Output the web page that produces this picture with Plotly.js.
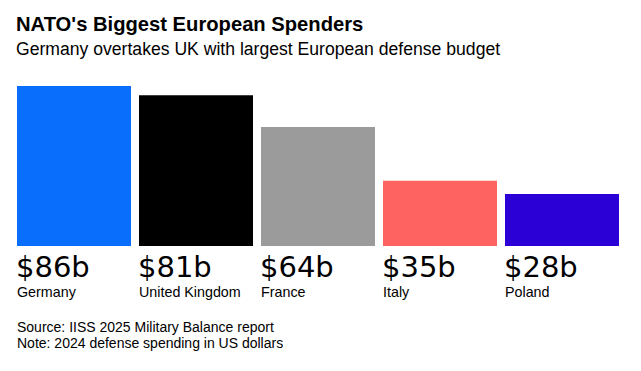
<!DOCTYPE html>
<html><head><meta charset="utf-8">
<script src="https://cdn.plot.ly/plotly-3.0.1.min.js"></script>
<style>html,body{margin:0;padding:0;background:#fff}#chart{width:641px;height:371px}</style>
</head><body><div id="chart"></div>
<script>
const countries = ["Germany", "United Kingdom", "France", "Italy", "Poland"];
const spending = [86, 81, 64, 35, 28];
const valueLabels = ["$86b", "$81b", "$64b", "$35b", "$28b"];
const colors = ["#0a6efd", "#000000", "#9b9b9b", "#ff6361", "#2a00d6"];

const FONT = "Liberation Sans, Arial, Helvetica, sans-serif";
const VFONT = "DejaVu Sans, Liberation Sans, sans-serif";
const barWidth = 114/122;
const xs = countries.map((_, i) => i);

const annotations = [];
xs.forEach((x, i) => {
  annotations.push({
    x: x - barWidth/2, y: 0, xref: "x", yref: "y", xanchor: "left", yanchor: "top",
    text: valueLabels[i], showarrow: false, yshift: -2, xshift: -3,
    font: {family: VFONT, size: 29, color: "#000"}
  });
  annotations.push({
    x: x - barWidth/2, y: 0, xref: "x", yref: "y", xanchor: "left", yanchor: "top",
    text: countries[i], showarrow: false, yshift: -36, xshift: -2,
    font: {family: FONT, size: 14.3, color: "#000"}
  });
});
annotations.push({
  x: 0, y: 0, xref: "paper", yref: "paper", xanchor: "left", yanchor: "top",
  text: "Source: IISS 2025 Military Balance report", showarrow: false,
  xshift: 2, yshift: -71, font: {family: FONT, size: 14, color: "#000"}
});
annotations.push({
  x: 0, y: 0, xref: "paper", yref: "paper", xanchor: "left", yanchor: "top",
  text: "Note: 2024 defense spending in US dollars", showarrow: false,
  xshift: 2, yshift: -87, font: {family: FONT, size: 14, color: "#000"}
});
annotations.push({
  x: 0, y: 1, xref: "paper", yref: "paper", xanchor: "left", yanchor: "bottom",
  text: "<b>NATO's Biggest European Spenders</b>", showarrow: false,
  xshift: 1, yshift: 42.5, font: {family: FONT, size: 20.2, color: "#000"}
});
annotations.push({
  x: 0, y: 1, xref: "paper", yref: "paper", xanchor: "left", yanchor: "bottom",
  text: "Germany overtakes UK with largest European defense budget", showarrow: false,
  xshift: 1, yshift: 19, font: {family: FONT, size: 17.6, color: "#000"}
});

const data = [{
  type: "bar", x: xs, y: spending, width: barWidth,
  marker: {color: colors, line: {width: 0}},
  hoverinfo: "skip"
}];

const layout = {
  width: 641, height: 371,
  margin: {l: 13, r: 18, t: 80, b: 125, pad: 0},
  paper_bgcolor: "#fff", plot_bgcolor: "#fff",
  showlegend: false,
  xaxis: {range: [-0.5, 4.5], showgrid: false, zeroline: false, showticklabels: false, ticks: "", fixedrange: true},
  yaxis: {range: [0, 89.2], showgrid: false, zeroline: false, showticklabels: false, ticks: "", fixedrange: true},
  annotations: annotations
};

Plotly.newPlot("chart", data, layout, {displayModeBar: false, staticPlot: true});
</script></body></html>
